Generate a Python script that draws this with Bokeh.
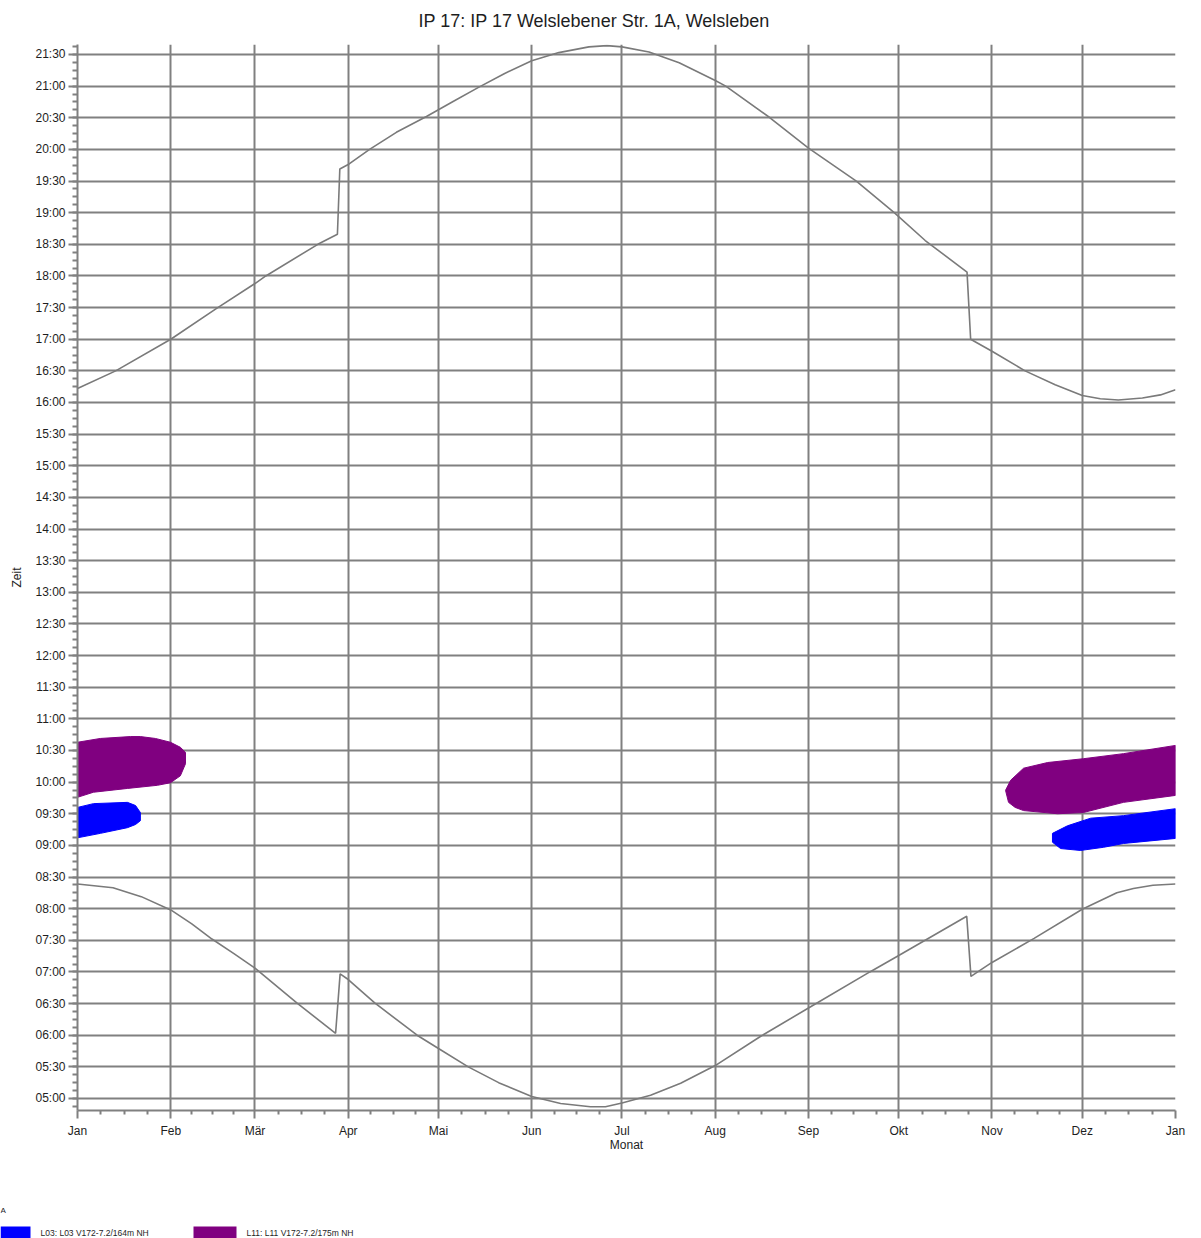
import numpy as np
from bokeh.plotting import figure
from bokeh.models import Range1d, FixedTicker, CustomJSTickFormatter
from bokeh.embed import file_html
from bokeh.resources import INLINE
from bokeh.core.properties import value

# ---------------- data ----------------
title_text = "IP 17: IP 17 Welslebener Str. 1A, Welsleben"
x_label = "Monat"
y_label = "Zeit"

month_starts = [0, 31, 59, 90, 120, 151, 181, 212, 243, 273, 304, 334, 365]
month_labels = ["Jan", "Feb", "Mär", "Apr", "Mai", "Jun", "Jul", "Aug",
                "Sep", "Okt", "Nov", "Dez", "Jan"]

# sunset (upper astronomical line): day of year / hour of day
sunset_day = [0, 12.7, 31, 46, 59, 62.6, 79.9, 86.4, 87.2, 90.3, 97.1, 106,
              116, 125, 133.3, 142, 151, 160, 170, 176, 181, 190, 200, 212,
              215.5, 230.2, 243, 258.9, 271.5, 281.8, 295.7, 296.9, 304, 315,
              325, 334, 340, 346, 354, 360, 365]
sunset_h = [16.22, 16.5, 17.0, 17.48, 17.88, 18.0, 18.5, 18.66, 19.69, 19.77,
            20.0, 20.27, 20.52, 20.76, 20.98, 21.2, 21.40, 21.53, 21.62, 21.64,
            21.62, 21.54, 21.37, 21.09, 21.0, 20.5, 20.02, 19.5, 19.0, 18.56,
            18.06, 17.0, 16.81, 16.5, 16.28, 16.11, 16.06, 16.04, 16.07, 16.12,
            16.2]

# sunrise (lower astronomical line)
sunrise_day = [0, 11.8, 21.2, 31, 38, 44.7, 52, 59, 72.9, 85.8, 87.3, 90, 98.8,
               112.9, 120, 129.9, 140, 151, 160.6, 170.5, 175.5, 181, 190.5,
               200.5, 212, 227, 243, 263.4, 273, 295.6, 297.0, 304, 318, 334,
               345.5, 351, 357.5, 365]
sunrise_h = [8.39, 8.33, 8.19, 7.98, 7.76, 7.52, 7.29, 7.06, 6.51, 6.03, 6.97,
             6.88, 6.51, 6.0, 5.79, 5.5, 5.25, 5.03, 4.92, 4.87, 4.87, 4.93,
             5.05, 5.24, 5.52, 5.98, 6.43, 7.0, 7.26, 7.88, 6.93, 7.15, 7.53,
             7.99, 8.25, 8.32, 8.37, 8.39]

# shadow areas (outline day / hour)
l11_jan_day = [0, 7.6, 17.6, 20.9, 25.9, 30.9, 34.2, 35.9, 35.9, 34.2, 30.9,
               26.6, 16.6, 5.3, 0]
l11_jan_h = [10.63, 10.69, 10.72, 10.72, 10.69, 10.63, 10.55, 10.47, 10.29,
             10.10, 9.99, 9.95, 9.90, 9.84, 9.76]

l03_jan_day = [0, 5.3, 16.6, 19.3, 20.9, 20.9, 19.3, 16.6, 7.6, 0]
l03_jan_h = [9.60, 9.66, 9.68, 9.63, 9.52, 9.39, 9.33, 9.28, 9.19, 9.12]

l11_dec_day = [308.5, 310.2, 314.5, 322.5, 334.4, 347.7, 365, 365, 347.7,
               334.4, 325.8, 314.5, 311.7, 309.5]
l11_dec_h = [9.87, 10.03, 10.22, 10.31, 10.37, 10.45, 10.58, 9.79, 9.68, 9.52,
             9.50, 9.55, 9.60, 9.68]

l03_dec_day = [324.1, 324.1, 329.1, 336.8, 347.7, 365, 365, 347.7, 341.1,
               333.4, 326.8]
l03_dec_h = [9.05, 9.19, 9.31, 9.43, 9.47, 9.58, 9.11, 9.03, 8.97, 8.92, 8.95]

legend_group = "A"
legend_labels = ["L03: L03 V172-7.2/164m NH", "L11: L11 V172-7.2/175m NH"]
legend_colors = ["#0000FF", "#800080"]

# ---------------- layout constants (page pixels) ----------------
GRID = "#808080"
FONT = "Liberation Sans"
TXT = "#1e1e1e"
W = 1197
TOP_H = 44       # title strip
MAIN_H = 1146    # chart
LG_H = 48        # legend strip

# ---------------- title strip ----------------
tt = figure(width=W, height=TOP_H, output_backend="svg", toolbar_location=None,
            x_range=Range1d(0, W), y_range=Range1d(TOP_H, 0),
            min_border=0, x_axis_type=None, y_axis_type=None,
            outline_line_color=None, background_fill_color="white",
            border_fill_color="white")
tt.grid.visible = False
tt.text(x=[418], y=[20], text=[title_text], text_font=value(FONT),
        text_font_size="18px", text_baseline="middle", text_align="left",
        text_color=TXT)

# ---------------- main figure ----------------
p = figure(width=W, height=MAIN_H, output_backend="svg", toolbar_location=None,
           x_range=Range1d(0, 365), y_range=Range1d(4.810, 21.658),
           min_border_left=77, min_border_right=22, min_border_top=0,
           min_border_bottom=80, background_fill_color="white",
           border_fill_color="white", outline_line_color=None)

# tickers
time_ticks = [5.0 + 0.5 * i for i in range(34)]
time_minor = [4.875 + 0.125 * i for i in range(136) if 4.8 < 4.875 + 0.125 * i < 21.66]
x_minor = []
for a, b in zip(month_starts[:-1], month_starts[1:]):
    for k in range(1, 4):
        x_minor.append(a + (b - a) * k / 4.0)

p.xaxis.ticker = FixedTicker(ticks=month_starts, minor_ticks=x_minor)
p.xaxis.major_label_overrides = {m: l for m, l in zip(month_starts, month_labels)}
p.yaxis.ticker = FixedTicker(ticks=time_ticks, minor_ticks=time_minor)
p.yaxis.formatter = CustomJSTickFormatter(code="""
const t = Math.round(tick*60); const h = Math.floor(t/60); const m = t % 60;
return (h < 10 ? '0' : '') + h + ':' + (m < 10 ? '0' : '') + m;""")

p.xaxis.axis_label = x_label
p.yaxis.axis_label = y_label

for ax in (p.xaxis[0], p.yaxis[0]):
    ax.axis_line_color = GRID
    ax.axis_line_width = 2
    ax.major_tick_line_color = GRID
    ax.major_tick_line_width = 2
    ax.minor_tick_line_color = GRID
    ax.minor_tick_line_width = 2
    ax.major_tick_in = 0
    ax.minor_tick_in = 0
    ax.major_label_text_font = FONT
    ax.major_label_text_font_size = "12px"
    ax.major_label_text_color = TXT
    ax.axis_label_text_font = FONT
    ax.axis_label_text_font_size = "12px"
    ax.axis_label_text_font_style = "normal"
    ax.axis_label_text_color = TXT

p.xaxis.major_tick_out = 8
p.xaxis.minor_tick_out = 4
p.xaxis.major_label_standoff = 5
p.xaxis.axis_label_standoff = -3
p.yaxis.major_tick_out = 9
p.yaxis.minor_tick_out = 5
p.yaxis.major_label_standoff = 3
p.yaxis.axis_label_standoff = 8

p.xgrid.grid_line_color = GRID
p.xgrid.grid_line_width = 2
p.ygrid.grid_line_color = GRID
p.ygrid.grid_line_width = 2

# shadow patches
p.patch(l11_jan_day, l11_jan_h, fill_color=legend_colors[1], line_color=legend_colors[1], line_width=1)
p.patch(l03_jan_day, l03_jan_h, fill_color=legend_colors[0], line_color=legend_colors[0], line_width=1)
p.patch(l11_dec_day, l11_dec_h, fill_color=legend_colors[1], line_color=legend_colors[1], line_width=1)
p.patch(l03_dec_day, l03_dec_h, fill_color=legend_colors[0], line_color=legend_colors[0], line_width=1)

# astronomical lines
p.line(sunset_day, sunset_h, line_color="#7a7a7a", line_width=1.6)
p.line(sunrise_day, sunrise_h, line_color="#7a7a7a", line_width=1.6)

# ---------------- legend strip (page-pixel coordinates) ----------------
Y0 = TOP_H + MAIN_H
lg = figure(width=W, height=LG_H, output_backend="svg", toolbar_location=None,
            x_range=Range1d(0, W), y_range=Range1d(Y0 + LG_H, Y0),
            min_border=0, x_axis_type=None, y_axis_type=None,
            outline_line_color=None, background_fill_color="white",
            border_fill_color="white")
lg.grid.visible = False
lg.text(x=[0], y=[1210], text=[legend_group], text_font=value(FONT),
        text_font_size="8px", text_baseline="middle", text_color=TXT)
lg.quad(left=[0, 193], right=[30, 236], top=[1226, 1226], bottom=[1240, 1240],
        fill_color=legend_colors, line_color=None)
lg.text(x=[40, 246], y=[1232, 1232], text=legend_labels, text_font=value(FONT),
        text_font_size="8.5px", text_baseline="middle", text_color=TXT)

open("out.html", "w").write(file_html([tt, p, lg], INLINE))
